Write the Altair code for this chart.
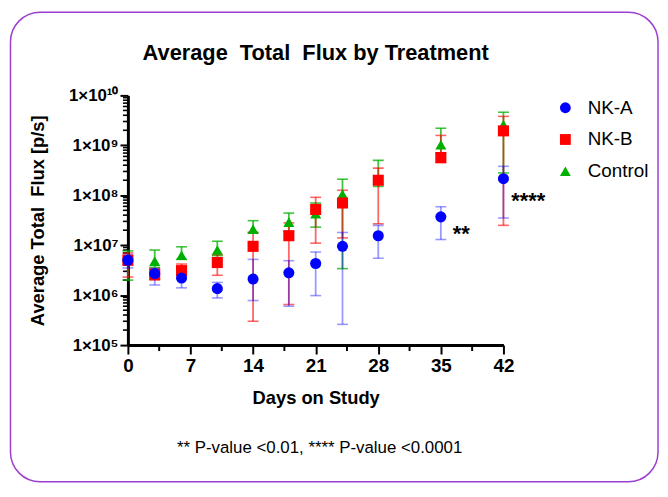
import altair as alt
import pandas as pd

# ---------------- data ----------------
days = [0, 3, 6, 10, 14, 18, 21, 24, 28, 35, 42]
series_names = ["NK-A", "NK-B", "Control"]
series_colors = ["#0000ff", "#ff0000", "#00b000"]
series_shapes = ["circle", "square", "triangle-up"]
bar_opacity = [0.4, 0.6, 0.75]

nka_mean = [5.0e6, 2.7e6, 2.2e6, 1.35e6, 2.1e6, 2.8e6, 4.3e6, 9.5e6, 1.55e7, 3.7e7, 2.15e8]
nka_lo = [3.5e6, 1.6e6, 1.4e6, 8.8e5, 7.8e5, 6.0e5, 9.8e5, 2.6e5, 5.5e6, 1.3e7, 3.5e7]
nka_hi = [6.5e6, 3.4e6, 2.9e6, 1.8e6, 5.2e6, 4.9e6, 7.3e6, 1.8e7, 2.5e7, 5.9e7, 3.8e8]

nkb_mean = [5.0e6, 2.6e6, 3.1e6, 4.5e6, 9.5e6, 1.55e7, 5.2e7, 7.0e7, 2.0e8, 5.7e8, 1.95e9]
nkb_lo = [2.3e6, 2.0e6, 2.2e6, 2.5e6, 3.0e5, 6.5e5, 1.1e7, 1.4e7, 2.7e7, 4.5e8, 2.5e7]
nkb_hi = [7.0e6, 3.4e6, 4.2e6, 6.5e6, 1.8e7, 2.8e7, 9.1e7, 1.26e8, 3.5e8, 1.58e9, 3.8e9]

ctl_mean = [5.5e6, 4.8e6, 6.3e6, 8.0e6, 2.1e7, 2.9e7, 4.3e7, 1.05e8, 2.0e8, 1.03e9, 2.6e9]
ctl_lo = [2.0e6, 3.6e6, 5.2e6, 6.2e6, 1.8e7, 1.9e7, 2.3e7, 3.4e6, 1.5e8, 7.0e8, 2.8e8]
ctl_hi = [7.7e6, 8.0e6, 9.3e6, 1.2e7, 3.1e7, 4.4e7, 7.0e7, 2.1e8, 5.0e8, 2.2e9, 4.6e9]

sig_days = [35, 42]
sig_labels = ["**", "****"]

x_major = [0, 7, 14, 21, 28, 35, 42]
x_minor = [3.5, 10.5, 17.5, 24.5, 31.5, 38.5]
y_major = [1e5, 1e6, 1e7, 1e8, 1e9, 1e10]
y_tick_labels = ["1×10⁵", "1×10⁶", "1×10⁷", "1×10⁸", "1×10⁹", "1×10¹⁰"]
y_minor = [m * d for d in [1e5, 1e6, 1e7, 1e8, 1e9] for m in [2, 3, 4, 5, 6, 7, 8, 9]]

title_text = "Average\u00a0 Total\u00a0 Flux by Treatment"
x_title = "Days on Study"
y_title = "Average Total\u00a0 Flux [p/s]"
footnote = "** P-value <0.01, **** P-value <0.0001"

# ---------------- tables ----------------
series_data = {
    "NK-A": (nka_mean, nka_lo, nka_hi),
    "NK-B": (nkb_mean, nkb_lo, nkb_hi),
    "Control": (ctl_mean, ctl_lo, ctl_hi),
}
draw_order = ["Control", "NK-B", "NK-A"]
rows = []
for name in draw_order:
    mean, lo, hi = series_data[name]
    for d, m, l, h in zip(days, mean, lo, hi):
        rows.append({"day": d, "series": name, "mean": m, "lo": l, "hi": h})
df = pd.DataFrame(rows)

sig_df = pd.DataFrame({
    "day": sig_days,
    "val": [nka_mean[days.index(d)] for d in sig_days],
    "label": sig_labels,
})
xminor_df = pd.DataFrame({"v": x_minor})
yminor_df = pd.DataFrame({"v": y_minor})

FONT = "Liberation Sans"
W, H = 379, 252

x_scale = alt.Scale(domain=[0, 42], nice=False, zero=False)
y_scale = alt.Scale(type="log", domain=[1e5, 1e10], nice=False)
color_scale = alt.Scale(domain=series_names, range=series_colors)
shape_scale = alt.Scale(domain=series_names, range=series_shapes)

# nested ternary: pick the label of the decade
y_label_expr = "''"
for v, lab in zip(y_major, y_tick_labels):
    y_label_expr = f"(datum.value > {v * 0.5:g} && datum.value < {v * 2:g}) ? '{lab}' : ({y_label_expr})"

# identical axis definitions are used in every layer so they merge into one
x_axis = alt.Axis(
    values=x_major,
    tickSize=9,
    labelFontSize=19,
    labelPadding=3,
    labelFlush=False,
    title=x_title,
    titleFontSize=18.5,
    titleY=44,
    titleBaseline="top",
)
y_axis = alt.Axis(
    values=y_major,
    labelExpr=y_label_expr,
    tickSize=8,
    labelFontSize=17,
    labelPadding=2,
    labelFlush=False,
    title=y_title,
    titleFontSize=18.5,
    titleX=-81,
    titleY=H / 2,
    titleAngle=270,
    titleAlign="center",
    titleBaseline="bottom",
)


def X(field):
    return alt.X(field, type="quantitative", scale=x_scale, axis=x_axis)


def Y(field):
    return alt.Y(field, type="quantitative", scale=y_scale, axis=y_axis)


frame = alt.Chart(alt.Data(values=[{}])).mark_rect(
    fill="white", fillOpacity=0, stroke="#9b3fd1", strokeWidth=1.5, cornerRadius=30
).encode(
    x=alt.value(-118.5), x2=alt.value(535), y=alt.value(-84), y2=alt.value(390)
)

y_minor_ticks = alt.Chart(yminor_df).mark_rule(color="black", strokeWidth=1.6).encode(
    y=Y("v"), x=alt.value(-5), x2=alt.value(0),
)
x_minor_ticks = alt.Chart(xminor_df).mark_rule(color="black", strokeWidth=2).encode(
    x=X("v"), y=alt.value(H), y2=alt.value(H + 6),
)

error_layers = []
for name in draw_order:
    i = series_names.index(name)
    col, op = series_colors[i], bar_opacity[i]
    sub = alt.Chart(df).transform_filter(alt.datum.series == name)
    error_layers.append(
        sub.mark_rule(color=col, opacity=op, strokeWidth=1.8).encode(
            x=X("day"), y=Y("lo"), y2="hi:Q"
        )
    )
    error_layers.append(
        sub.mark_tick(orient="horizontal", size=11, thickness=1.6, color=col, opacity=op).encode(
            x=X("day"), y=Y("lo")
        )
    )
    error_layers.append(
        sub.mark_tick(orient="horizontal", size=11, thickness=1.6, color=col, opacity=op).encode(
            x=X("day"), y=Y("hi")
        )
    )

legend = alt.Legend(
    title=None,
    orient="none",
    legendX=432,
    legendY=3,
    symbolSize=120,
    labelFont=FONT,
    labelFontSize=19,
    labelColor="black",
    labelOffset=13,
    rowPadding=12,
    padding=0,
)

points = alt.Chart(df).mark_point(filled=True, size=125, opacity=1).encode(
    x=X("day"),
    y=Y("mean"),
    color=alt.Color("series:N", scale=color_scale, legend=legend),
    shape=alt.Shape("series:N", scale=shape_scale, legend=legend),
)

sig_text_1 = alt.Chart(sig_df).transform_filter("datum.day == 35").mark_text(
    align="left", baseline="middle", dx=12, dy=17, font=FONT, fontSize=22,
    fontWeight="bold", color="black"
).encode(x=X("day"), y=Y("val"), text="label:N")
sig_text_2 = alt.Chart(sig_df).transform_filter("datum.day == 42").mark_text(
    align="left", baseline="middle", dx=8, dy=23, font=FONT, fontSize=22,
    fontWeight="bold", color="black"
).encode(x=X("day"), y=Y("val"), text="label:N")

foot = alt.Chart(alt.Data(values=[{}])).mark_text(
    align="center", baseline="middle", font=FONT, fontSize=17, color="black"
).encode(
    x=alt.value(193.5), y=alt.value(356), text=alt.value(footnote)
)

chart = alt.layer(
    frame, y_minor_ticks, x_minor_ticks, *error_layers, points,
    sig_text_1, sig_text_2, foot
).properties(
    width=W,
    height=H,
    title=alt.TitleParams(
        text=title_text, font=FONT, fontSize=22, fontWeight="bold", color="black",
        anchor="middle", frame="group", offset=-54,
    ),
    padding=1,
).configure_view(
    stroke=None
).configure_axis(
    grid=False,
    domainColor="black",
    domainWidth=3,
    tickColor="black",
    tickWidth=2,
    labelFont=FONT,
    labelFontWeight="bold",
    labelColor="black",
    titleFont=FONT,
    titleFontWeight="bold",
    titleColor="black",
)

chart.save("out.html", embed_options={"renderer": "svg", "actions": False})
